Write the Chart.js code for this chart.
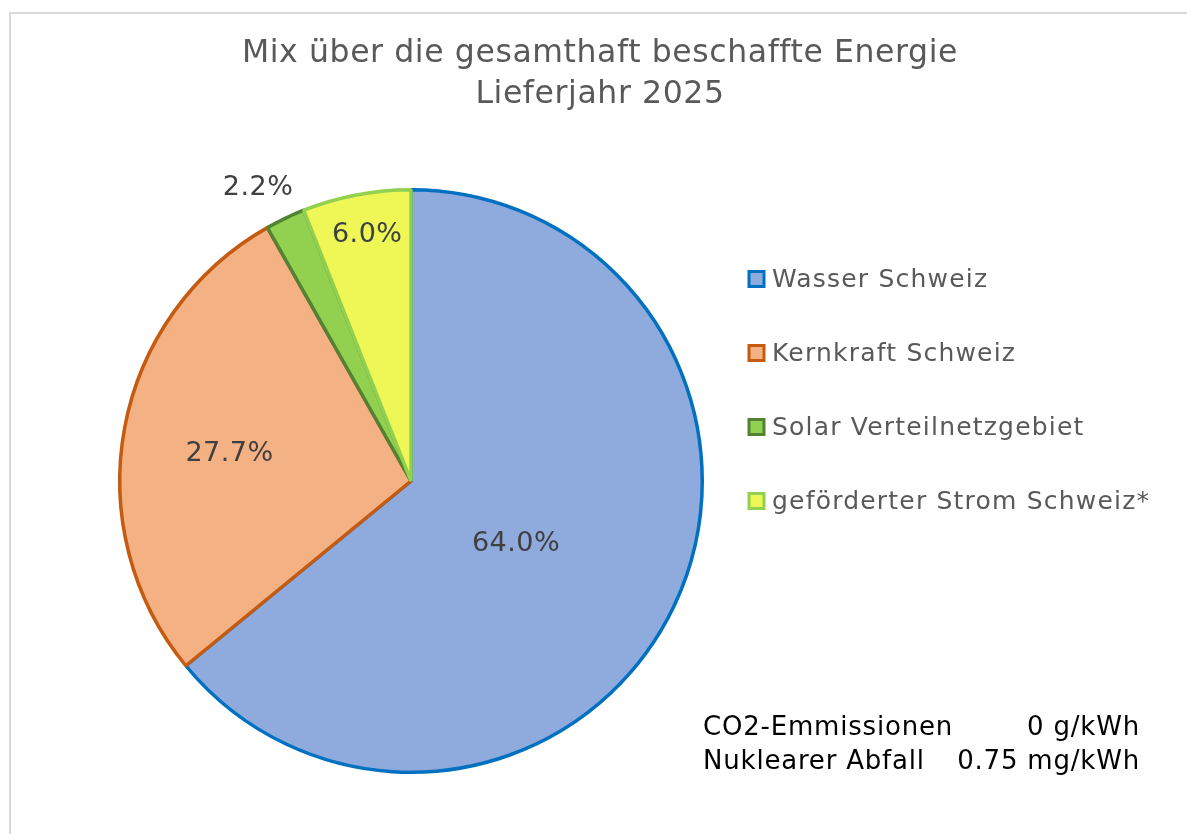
<!DOCTYPE html>
<html>
<head>
<meta charset="utf-8">
<script src="https://cdn.jsdelivr.net/npm/chart.js@4/dist/chart.umd.min.js"></script>
<style>
  html, body { margin: 0; padding: 0; background: #fff; }
  #wrap { position: relative; width: 1187px; height: 834px; }
</style>
</head>
<body>
<div id="wrap"><canvas id="mixChart" width="1187" height="834"></canvas></div>
<script>
const titleLines = ["Mix über die gesamthaft beschaffte Energie", "Lieferjahr 2025"];
const categories = ["Wasser Schweiz", "Kernkraft Schweiz", "Solar Verteilnetzgebiet", "geförderter Strom Schweiz*"];
const shares = [64.0, 27.7, 2.2, 6.0];
const noteLabels = ["CO2-Emmissionen", "Nuklearer Abfall"];
const noteValues = ["0 g/kWh", "0.75 mg/kWh"];

const FILLS = ["#8FAADC", "#F4B183", "#92D050", "#EEF756"];
const STROKES = ["#0070C0", "#C55A11", "#548235", "#92D050"];
const FONT = "'DejaVu Sans', 'Open Sans', sans-serif";

// label placement per slice: angle shift (deg, clockwise) and radius factor
const labelShift = [5.5, -2, -2, 0.7];
const labelRadius = [0.42, 0.63, 1.134, 0.857];

function setFont(ctx, size, spacing) {
    ctx.font = size + "px " + FONT;
    ctx.letterSpacing = spacing + "px";
}

const decorPlugin = {
    id: "decor",
    beforeDraw(chart) {
        const ctx = chart.ctx;
        ctx.save();
        ctx.strokeStyle = "#d9d9d9";
        ctx.lineWidth = 2;
        ctx.strokeRect(10, 13, 1200, 900);
        ctx.restore();
    },
    afterDraw(chart) {
        const ctx = chart.ctx;
        ctx.save();

        // title
        ctx.fillStyle = "#595959";
        setFont(ctx, 31.5, 0.6);
        ctx.textAlign = "center";
        ctx.textBaseline = "middle";
        ctx.fillText(titleLines[0], 600, 54);
        ctx.fillText(titleLines[1], 600, 95);

        // data labels
        const meta = chart.getDatasetMeta(0);
        ctx.fillStyle = "#404040";
        setFont(ctx, 27, 0.5);
        meta.data.forEach((arc, i) => {
            const p = arc.getProps(["x", "y", "startAngle", "endAngle", "outerRadius"], true);
            const a = (p.startAngle + p.endAngle) / 2 + labelShift[i] * Math.PI / 180;
            const r = p.outerRadius * labelRadius[i];
            ctx.fillText(shares[i].toFixed(1) + "%", p.x + Math.cos(a) * r, p.y + Math.sin(a) * r);
        });

        // legend
        ctx.textAlign = "left";
        setFont(ctx, 25, 1.2);
        categories.forEach((c, i) => {
            const y = 279 + i * 74;
            ctx.fillStyle = FILLS[i];
            ctx.fillRect(749, y - 7.5, 15, 15);
            ctx.strokeStyle = STROKES[i];
            ctx.lineWidth = 3;
            ctx.strokeRect(749, y - 7.5, 15, 15);
            ctx.fillStyle = "#595959";
            ctx.fillText(c, 772, y + 1);
        });

        // notes
        ctx.fillStyle = "#000";
        setFont(ctx, 26, 0.8);
        noteLabels.forEach((t, i) => {
            const y = 728 + i * 34;
            ctx.textAlign = "left";
            ctx.fillText(t, 703, y);
            ctx.textAlign = "right";
            ctx.fillText(noteValues[i], 1140, y);
        });
        ctx.restore();
    }
};

new Chart(document.getElementById("mixChart"), {
    type: "pie",
    data: {
        labels: categories,
        datasets: [{
            data: shares,
            backgroundColor: FILLS,
            borderColor: STROKES,
            borderWidth: 3.5
        }]
    },
    options: {
        responsive: false,
        animation: false,
        layout: { padding: { left: 118, right: 483, top: 188, bottom: 60 } },
        plugins: {
            legend: { display: false },
            title: { display: false },
            tooltip: { enabled: false }
        }
    },
    plugins: [decorPlugin]
});
</script>
</body>
</html>
